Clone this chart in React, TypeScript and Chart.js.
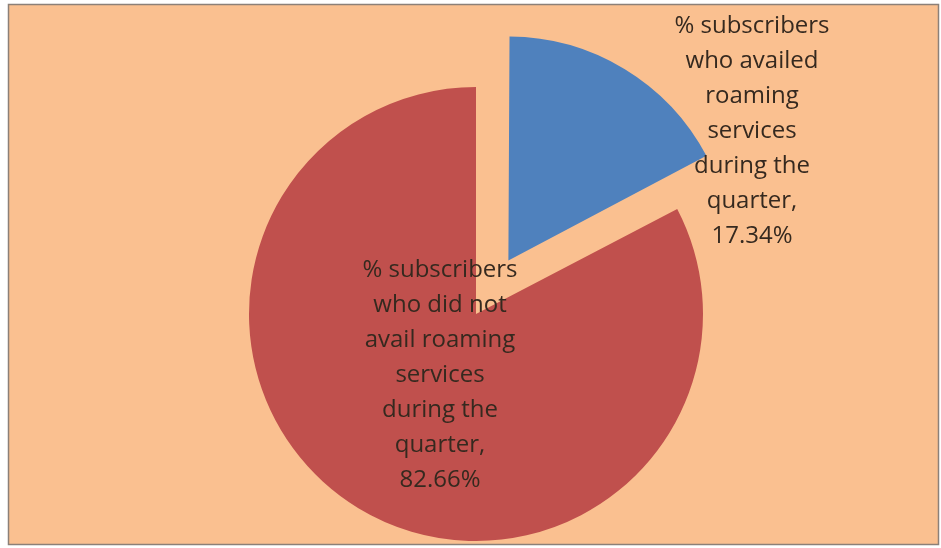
import React, { useEffect, useRef } from "react";
import { Chart, registerables } from "chart.js";

Chart.register(...registerables);

const categories = [
  "% subscribers who availed roaming services during the quarter",
  "% subscribers who did not avail roaming services during the quarter",
];
const values = [17.34, 82.66];
const colors = ["#4F81BD", "#C0504D"];
const offsets = [250, 0];
const labelLines = [
  ["% subscribers", "who availed", "roaming", "services", "during the", "quarter,", "17.34%"],
  ["% subscribers", "who did not", "avail roaming", "services", "during the", "quarter,", "82.66%"],
];

const bgPlugin = {
  id: "bgPlugin",
  beforeDraw(chart: any) {
    const ctx = chart.ctx;
    ctx.save();
    ctx.fillStyle = "#ffffff";
    ctx.fillRect(0, 0, chart.width, chart.height);
    ctx.fillStyle = "#FAC090";
    ctx.fillRect(8, 4, 931, 541);
    ctx.strokeStyle = "#8c8078";
    ctx.lineWidth = 1.5;
    ctx.strokeRect(8.5, 4.5, 930, 540);
    ctx.restore();
  },
  beforeDatasetsDraw(chart: any) {
    const meta = chart.getDatasetMeta(0);
    const ctrl: any = meta.controller;
    meta.data.forEach((el: any, i: number) => {
      const off = (offsets[i] || 0) / 4;
      const circ = el.circumference;
      const fix = 1 - Math.sin(Math.min(Math.PI, circ || 0));
      el.outerRadius = ctrl.outerRadius - off * fix - (offsets[i] ? 3 : 0);
    });
  },
  afterDatasetsDraw(chart: any) {
    const ctx = chart.ctx;
    ctx.save();
    ctx.font = "24px 'Open Sans'";
    ctx.fillStyle = "#35291f";
    ctx.textAlign = "center";
    ctx.textBaseline = "middle";
    const anchors = [
      { x: 752, y: 26 },
      { x: 440, y: 270 },
    ];
    labelLines.forEach((lines, i) => {
      lines.forEach((t, j) => {
        ctx.fillText(t, anchors[i].x, anchors[i].y + j * 35);
      });
    });
    ctx.restore();
  },
};

export default function App() {
  const ref = useRef<HTMLCanvasElement | null>(null);
  useEffect(() => {
    document.body.style.margin = "0";
    const chart = new Chart(ref.current!, {
      type: "pie",
      data: {
        labels: categories,
        datasets: [
          {
            data: values,
            backgroundColor: colors,
            borderWidth: 0,
            offset: offsets,
            radius: 227,
          } as any,
        ],
      },
      options: {
        animation: false,
        responsive: false,
        layout: { padding: { left: 11, right: 0, top: 80, bottom: 0 } },
        plugins: {
          legend: { display: false },
          tooltip: { enabled: false },
        },
      },
      plugins: [bgPlugin],
    });
    return () => chart.destroy();
  }, []);
  return (
    <div style={{ width: 941, height: 548 }}>
      <canvas ref={ref} width={941} height={548} style={{ width: 941, height: 548, display: "block" }} />
    </div>
  );
}
